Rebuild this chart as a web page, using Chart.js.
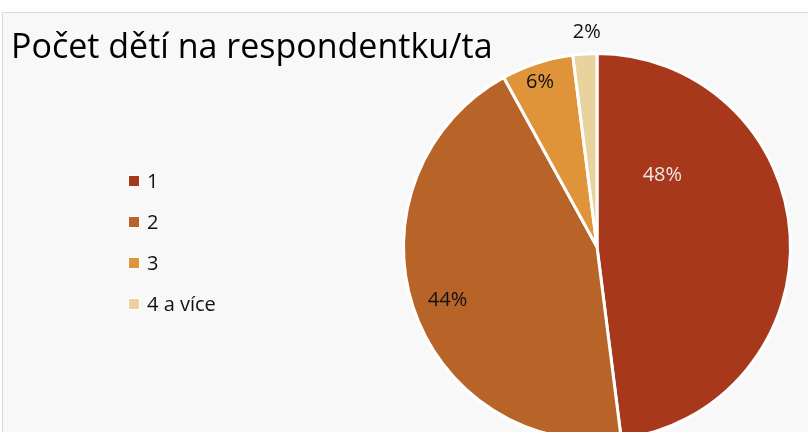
<!DOCTYPE html>
<html>
<head>
<meta charset="utf-8">
<script src="https://cdn.jsdelivr.net/npm/chart.js@4.4.0/dist/chart.umd.min.js"></script>
<style>
  html, body { margin: 0; padding: 0; background: #ffffff; }
  #wrap { position: relative; width: 808px; height: 432px; overflow: hidden; }
  #panel { position: absolute; left: 2px; top: 12px; width: 820px; height: 440px;
           background: #f8f8f8; border: 1px solid #d9d9d9; box-sizing: border-box; }
  #c { position: absolute; left: 0; top: 0; }
</style>
</head>
<body>
<div id="wrap">
  <div id="panel"></div>
  <canvas id="c" width="808" height="500"></canvas>
</div>
<script>
const titleText = "Počet dětí na respondentku/ta";
const categories = ["1", "2", "3", "4 a více"];
const shares = [48, 44, 6, 2];
const sliceColors = ["#a8381c", "#b86327", "#df943a", "#e8d29e"];
const labelColors = ["#f2e6e0", "#111111", "#111111", "#111111"];
// label placement: [fraction along slice angle, fraction of radius]
const labelPlace = [[0.246, 0.50], [0.49, 0.82], [0.45, 0.90], [0.62, 1.11]];

const FONT = "'Open Sans', 'Noto Sans', sans-serif";

const overlay = {
  id: 'overlay',
  afterDraw(chart) {
    const ctx = chart.ctx;
    ctx.save();
    // Title
    ctx.fillStyle = '#000000';
    ctx.font = "34px " + FONT;
    ctx.textBaseline = 'alphabetic';
    ctx.textAlign = 'left';
    ctx.fillText(titleText, 11, 58);
    // Legend
    const labels = chart.data.labels;
    const colors = chart.data.datasets[0].backgroundColor;
    ctx.font = "20px " + FONT;
    ctx.textBaseline = 'middle';
    labels.forEach((lab, i) => {
      const cy = 181 + i * 41;
      ctx.fillStyle = '#ffffff';
      ctx.fillRect(128, cy - 6, 12, 12);
      ctx.fillStyle = colors[i];
      ctx.fillRect(129, cy - 5, 10, 10);
      ctx.fillStyle = '#111111';
      ctx.fillText(lab, 147, cy + 1);
    });
    // Data labels
    const meta = chart.getDatasetMeta(0);
    ctx.textAlign = 'center';
    ctx.font = "20px " + FONT;
    meta.data.forEach((arc, i) => {
      const p = arc.getProps(['x', 'y', 'startAngle', 'endAngle', 'outerRadius'], true);
      const a = p.startAngle + (p.endAngle - p.startAngle) * labelPlace[i][0];
      const r = p.outerRadius * labelPlace[i][1];
      ctx.fillStyle = labelColors[i];
      ctx.fillText(shares[i] + '%', p.x + Math.cos(a) * r, p.y + Math.sin(a) * r);
    });
    ctx.restore();
  }
};

new Chart(document.getElementById('c'), {
  type: 'pie',
  data: {
    labels: categories,
    datasets: [{
      data: shares,
      backgroundColor: sliceColors,
      borderColor: '#ffffff',
      borderWidth: 3
    }]
  },
  options: {
    responsive: false,
    animation: false,
    layout: { padding: { left: 402, right: 16, top: 52, bottom: 58 } },
    plugins: {
      legend: { display: false },
      title: { display: false },
      tooltip: { enabled: false }
    }
  },
  plugins: [overlay]
});
</script>
</body>
</html>
